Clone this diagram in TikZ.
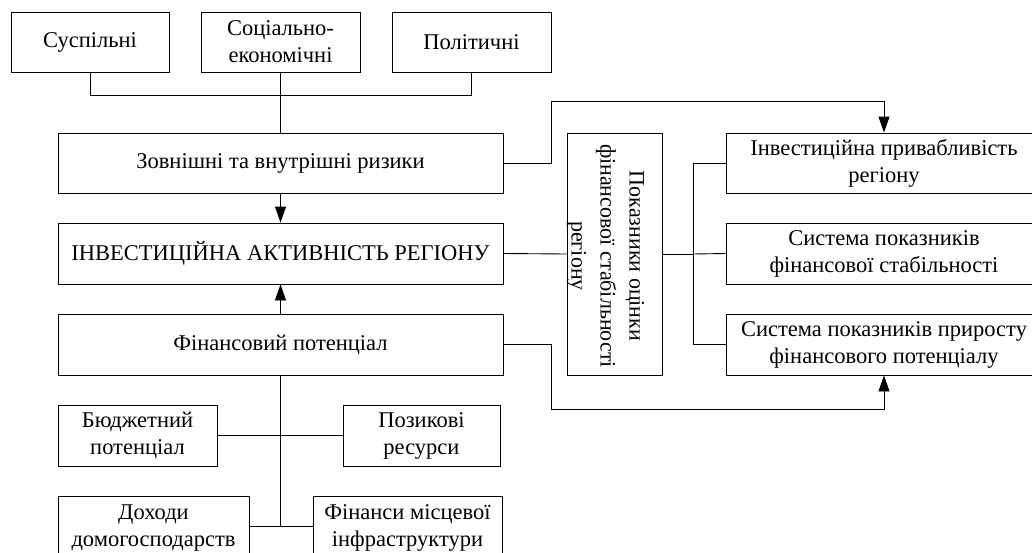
\documentclass[tikz,border=0pt]{standalone}
\usepackage{fontspec}
\setmainfont{Liberation Serif}
\usetikzlibrary{arrows.meta}
\begin{document}
\begin{tikzpicture}[x=1pt,y=-1pt,
  box/.style={draw, line width=0.9pt, inner sep=0pt, align=center,
    font=\fontsize{22.5}{27}\selectfont},
  conn/.style={line width=0.9pt},
  arr/.style={conn, -{Triangle[length=16pt,width=11pt]}}]
\useasboundingbox (0,0) rectangle (1032,552);
% risk groups
\node[box, minimum width=158, minimum height=60] (susp) at (90,42) {Суспільні};
\node[box, minimum width=159, minimum height=60] (soc) at (280.5,42) {Соціально-\\економічні};
\node[box, minimum width=159, minimum height=60] (pol) at (471.5,42) {Політичні};
% main column
\node[box, minimum width=445, minimum height=60] (zov) at (280.5,163) {Зовнішні та внутрішні ризики};
\node[box, minimum width=445, minimum height=61] (ia) at (280.5,253.5) {ІНВЕСТИЦІЙНА АКТИВНІСТЬ РЕГІОНУ};
\node[box, minimum width=445, minimum height=61] (fp) at (280.5,344.5) {Фінансовий потенціал};
% indicators
\node[box, minimum width=95, minimum height=242] (pokaz) at (614.5,254) {};
\node[rotate=-90, align=center, inner sep=0pt, font=\fontsize{22}{29}\selectfont] (pokaztxt) at (605.5,256)
  {Показники оцінки\\фінансової стабільності\\регіону};
\node[box, minimum width=316, minimum height=60] (inv) at (884,163) {Інвестиційна привабливість\\регіону};
\node[box, minimum width=316, minimum height=61] (stab) at (884,253.5) {Система показників\\фінансової стабільності};
\node[box, minimum width=316, minimum height=61] (prir) at (884,344.5) {Система показників приросту\\фінансового потенціалу};
% components of the financial potential
\node[box, minimum width=159, minimum height=61] (bud) at (137.5,435.5) {Бюджетний\\потенціал};
\node[box, minimum width=157, minimum height=61] (poz) at (421.5,435.5) {Позикові\\ресурси};
\node[box, minimum width=191, minimum height=64] (doh) at (153.5,528) {Доходи\\домогосподарств};
\node[box, minimum width=189, minimum height=64] (fin) at (407.5,528) {Фінанси місцевої\\інфраструктури};
% connectors
\coordinate (rb) at (693,254);
\coordinate (lowbus) at (280.5,526);
\draw[conn] (susp.south) -- ++(0,23) -| (pol.south);
\draw[conn] (soc.south) -- (zov.north);
\draw[arr] (zov.south) -- (ia.north);
\draw[arr] (fp.north) -- (ia.south);
\draw[arr] (zov.east) -- (551,163) -- (551,101) -| (inv.north);
\draw[conn] (ia.east) -- (pokaz.west);
\draw[conn] (pokaz.east) -- (rb);
\draw[conn] (inv.west) -| (rb) |- (prir.west);
\draw[conn] (rb) -- (stab.west);
\draw[arr] (fp.east) -- (551,344.5) -- (551,409) -| (prir.south);
\draw[conn] (fp.south) -- (lowbus);
\draw[conn] (bud.east) -- (poz.west);
\draw[conn] ([yshift=2pt]doh.east) -- ([yshift=2pt]fin.west);
\end{tikzpicture}
\end{document}
